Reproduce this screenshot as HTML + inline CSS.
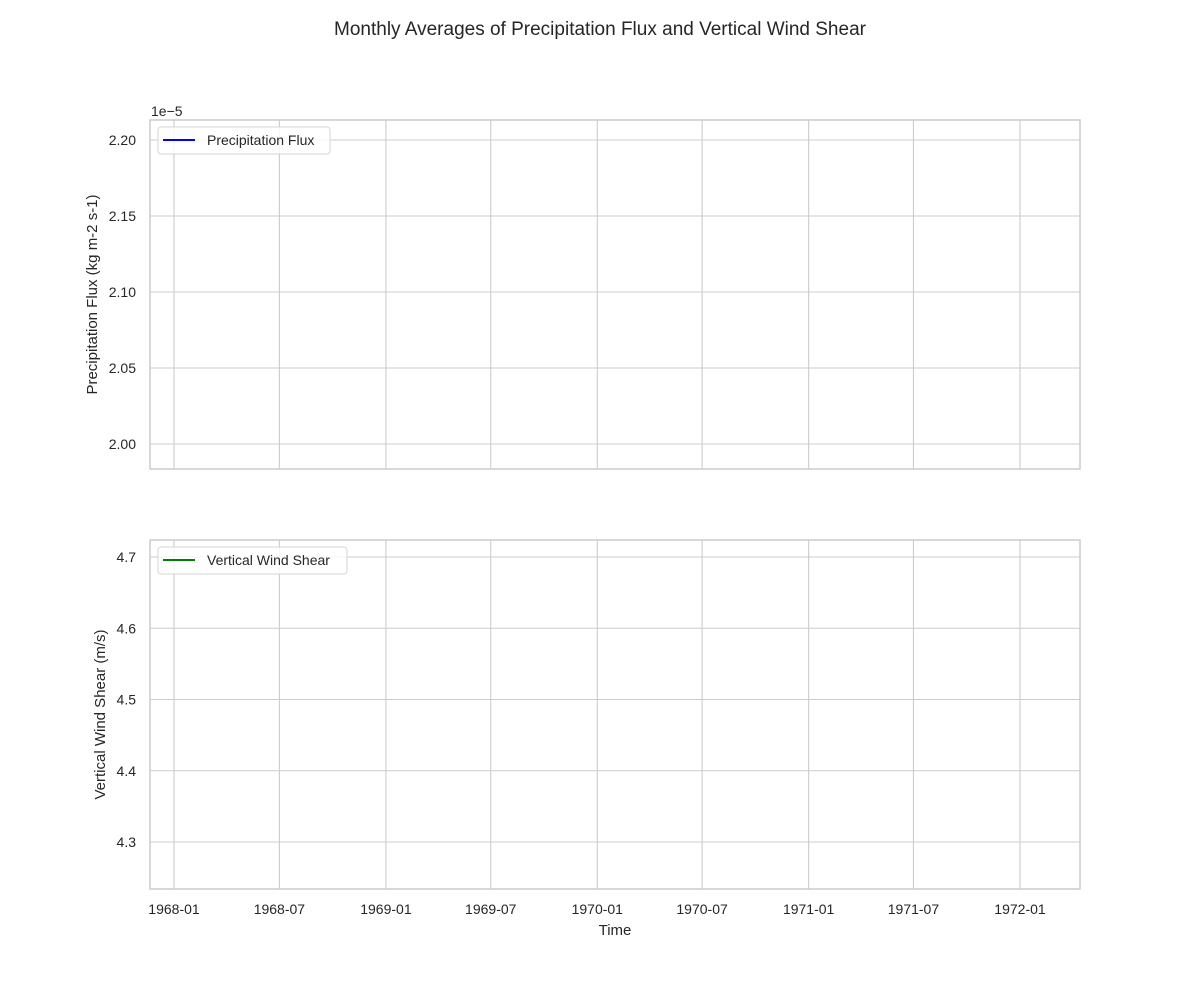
<!DOCTYPE html>
<html><head><meta charset="utf-8"><style>
body{margin:0;background:#fff;}
svg{display:block;font-family:"Liberation Sans",Arial,sans-serif;}
</style></head><body>
<svg id="chart" width="1200" height="1000" viewBox="0 0 1200 1000"></svg>
<script>
// Data
const xTickLabels = ["1968-01","1968-07","1969-01","1969-07","1970-01","1970-07","1971-01","1971-07","1972-01"];
const precipTicks = [2.00,2.05,2.10,2.15,2.20];
const shearTicks = [4.3,4.4,4.5,4.6,4.7];
const dates = [];          // series dates (none visible in reference)
const precipValues = [];   // precipitation flux (x1e-5)
const shearValues = [];    // vertical wind shear (m/s)

const svg = document.getElementById('chart');
const NS = 'http://www.w3.org/2000/svg';
function el(tag, attrs, parent, text){
  const e = document.createElementNS(NS, tag);
  for (const k in attrs) e.setAttribute(k, attrs[k]);
  if (text !== undefined) e.textContent = text;
  (parent||svg).appendChild(e);
  return e;
}
const L = 150, R = 1080;
const t0 = Date.UTC(1968,0,1), t1 = Date.UTC(1972,0,1);
function xScale(d){ const t = (d instanceof Date)? d.getTime() : Date.parse(d+"-01T00:00:00Z"); return 174 + (t - t0)/(t1 - t0)*(1020-174); }
function yTop(v){ return 444 + (v - 2.00)/(0.20)*(140-444); }
function yBot(v){ return 842 + (v - 4.3)/(0.4)*(557-842); }

const title = el('text',{x:600,y:35,'text-anchor':'middle','font-size':19,fill:'#262626'},svg,'Monthly Averages of Precipitation Flux and Vertical Wind Shear');



function panel(top, bottom, ticks, yfn, tickFmt, ylabel, name, color, legendLabel, values, legendW){
  const g = el('g',{});
  
  
  xTickLabels.forEach(lbl=>{
    const x = xScale(lbl);
    const ln = el('line',{x1:x,x2:x,y1:top,y2:bottom,stroke:'#cccccc','stroke-width':1.1},g);
    
    
  });
  ticks.forEach(v=>{
    const y = yfn(v);
    const ln = el('line',{x1:L,x2:R,y1:y,y2:y,stroke:'#cccccc','stroke-width':1.1},g);
    
    
    const t = el('text',{x:136,y:y+5,'text-anchor':'end','font-size':14,fill:'#262626'},g,tickFmt(v));
    
    
  });
  const frame = el('rect',{x:L,y:top,width:R-L,height:bottom-top,fill:'none',stroke:'#cccccc','stroke-width':1.5},g);
  
  
  if (values.length){
    const pts = values.map((v,i)=>xScale(dates[i])+','+yfn(v)).join(' ');
    const line = el('polyline',{points:pts,fill:'none',stroke:color,'stroke-width':1.5},g);
    
    
  }
  const cy = (top+bottom)/2;
  const yl = el('text',{x:0,y:0,transform:`translate(${name==='precip'?97:105},${cy}) rotate(-90)`,'text-anchor':'middle','font-size':15,fill:'#262626'},g,ylabel);
  
  
  const lg = el('g',{},g);
  
  
  el('rect',{x:158,y:top+7,width:legendW,height:27,rx:3,fill:'#fff','fill-opacity':0.8,stroke:'#d6d6d6'},lg);
  el('line',{x1:163,x2:195,y1:top+20,y2:top+20,stroke:color,'stroke-width':2},lg);
  el('text',{x:207,y:top+25,'font-size':14,fill:'#262626'},lg,legendLabel);
}
panel(120,469,precipTicks,yTop,v=>v.toFixed(2),'Precipitation Flux (kg m-2 s-1)','precip','#0000ff','Precipitation Flux',precipValues,172);
panel(540,889,shearTicks,yBot,v=>v.toFixed(1),'Vertical Wind Shear (m/s)','shear','#008000','Vertical Wind Shear',shearValues,189);

const off = el('text',{x:151,y:116,'font-size':14,fill:'#262626'},svg,'1e\u22125');



xTickLabels.forEach(lbl=>{
  const t = el('text',{x:xScale(lbl),y:914,'text-anchor':'middle','font-size':14,fill:'#262626'},svg,lbl);
  
  
});
const xt = el('text',{x:615,y:935,'text-anchor':'middle','font-size':15,fill:'#262626'},svg,'Time');


</script>
</body></html>
